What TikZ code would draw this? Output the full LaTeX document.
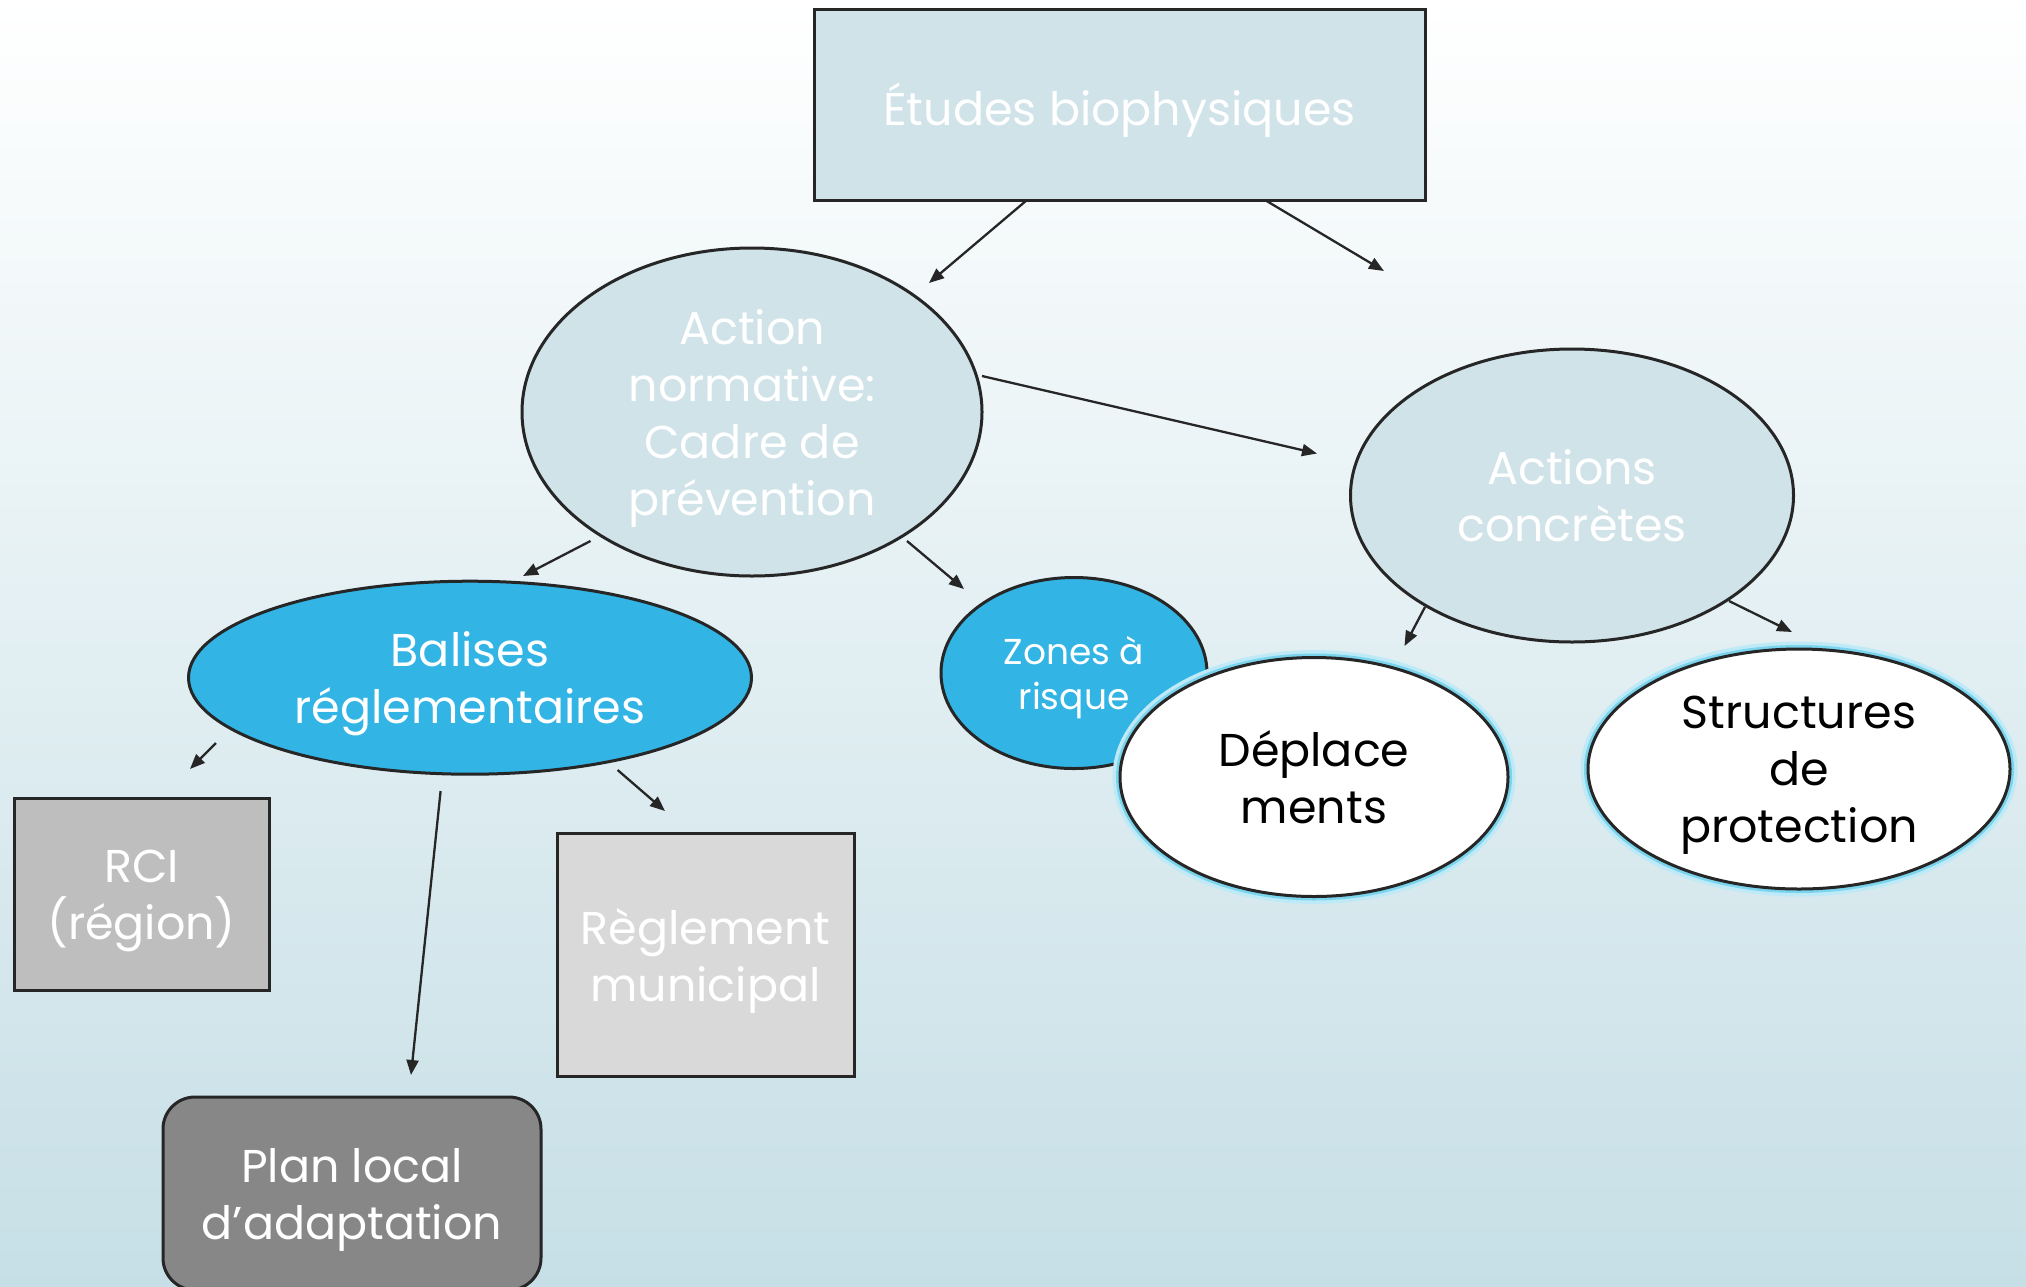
\documentclass[tikz,border=0pt]{standalone}
\usepackage{fontspec}
\setmainfont{Poppins}
\usetikzlibrary{shapes.geometric,arrows.meta,calc}
\definecolor{bgmid}{HTML}{E3EEF1}
\definecolor{bgbot}{HTML}{C6DFE6}
\definecolor{pale}{HTML}{D0E3E9}
\definecolor{azure}{HTML}{32B4E5}
\definecolor{ink}{HTML}{262626}
\definecolor{glowA}{HTML}{BDEAF6}
\definecolor{glowB}{HTML}{7BD4EE}
\definecolor{rcigray}{HTML}{BEBEBE}
\definecolor{reggray}{HTML}{D9D9D9}
\definecolor{plangray}{HTML}{878787}
\tikzset{
  base/.style={draw=ink, line width=3pt, align=center, inner sep=0pt,
    text depth=0pt, font=\fontsize{46}{57}\selectfont},
  boxn/.style={base, rectangle},
  ell/.style={base, ellipse},
  glow/.style={preaction={draw=glowA, line width=15pt},
               preaction={draw=glowB, line width=8pt}},
  arr/.style={draw=ink, line width=2.3pt, -{Triangle[length=15pt,width=12pt]}}
}
\begin{document}
\begin{tikzpicture}[x=1pt,y=-1pt]
\useasboundingbox (0,0) rectangle (2026,1286);
\clip (0,0) rectangle (2026,1286);
\shade[top color=white, middle color=bgmid, bottom color=bgbot] (0,0) rectangle (2026,1286);

\node[boxn, fill=pale, text=white, minimum width=611pt, minimum height=191pt] (top) at (1119.5,104.5) {Études biophysiques};
\node[ell, fill=pale, text=white, minimum width=460pt, minimum height=328pt] (an) at (752,412) {Action\\normative:\\Cadre de\\prévention};
\node[ell, fill=pale, text=white, minimum width=443pt, minimum height=293pt] (ac) at (1572,495.5) {Actions\\concrètes};
\node[ell, fill=azure, text=white, minimum width=563pt, minimum height=193pt] (bal) at (470,677.7) {Balises\\réglementaires};
\node[ell, fill=azure, text=white, minimum width=266pt, minimum height=191pt, font=\fontsize{36}{45}\selectfont] (zon) at (1074,673) {Zones à\\risque};
\node[ell, glow, fill=white, text=black, minimum width=388pt, minimum height=239pt] (dep) at (1314,777) {Déplace\\ments};
\node[ell, glow, fill=white, text=black, minimum width=422pt, minimum height=240pt] (str) at (1799,769) {Structures\\de\\protection};
\node[boxn, fill=rcigray, text=white, minimum width=255pt, minimum height=192pt] (rci) at (141.5,894.75) {RCI\\(région)};
\node[boxn, fill=reggray, text=white, minimum width=297pt, minimum height=243pt] (reg) at (705.5,954.5) {Règlement\\municipal};
\node[boxn, fill=plangray, text=white, rounded corners=32pt, minimum width=378pt, minimum height=193pt] (plan) at (352,1193.5) {Plan local\\d’adaptation};

\coordinate (free) at (1384,271);

\draw[arr] ($(top.center)+(-92.5,95.5)$) -- ($(an.center)+(177,-129)$);
\draw[arr] ($(top.center)+(145.5,95.5)$) -- (free);
\draw[arr] ($(an.center)+(230,-36)$) -- ($(ac.center)+(-255,-42)$);
\draw[arr] ($(an.center)+(-161.5,129)$) -- ($(bal.center)+(53,-101.7)$);
\draw[arr] ($(an.center)+(155,129)$) -- ($(zon.center)+(-110,-84)$);
\draw[arr] ($(ac.center)+(-147,111.5)$) -- ($(dep.center)+(90.5,-131)$);
\draw[arr] ($(ac.center)+(157,105.5)$) -- ($(str.center)+(-7,-137)$);
\draw[arr] ($(bal.center)+(-254,65.3)$) -- ($(rci.center)+(48.5,-125.75)$);
\draw[arr] ($(bal.center)+(-29.4,113.3)$) -- ($(plan.center)+(59,-118.5)$);
\draw[arr] ($(bal.center)+(147.6,92.3)$) -- ($(reg.center)+(-40.5,-143.5)$);
\end{tikzpicture}
\end{document}
